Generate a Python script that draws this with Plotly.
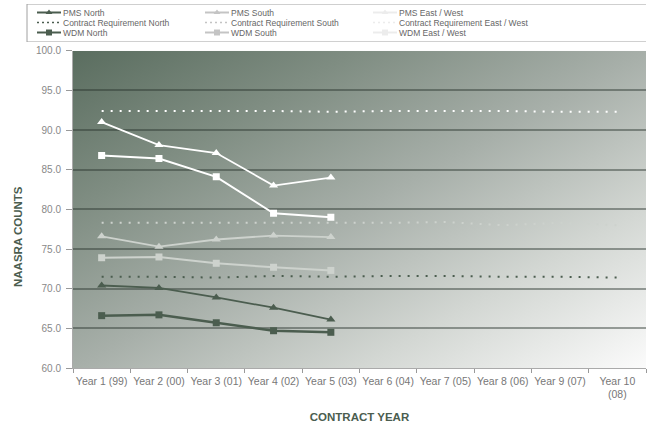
import base64
import plotly.graph_objects as go

years = ["Year 1 (99)", "Year 2 (00)", "Year 3 (01)", "Year 4 (02)", "Year 5 (03)",
         "Year 6 (04)", "Year 7 (05)", "Year 8 (06)", "Year 9 (07)", "Year 10<br>(08)"]

pms_north = [70.4, 70.1, 68.9, 67.6, 66.1]
wdm_north = [66.6, 66.7, 65.7, 64.7, 64.5]
pms_south = [76.6, 75.3, 76.2, 76.7, 76.5]
wdm_south = [73.9, 74.0, 73.2, 72.7, 72.3]
pms_ew = [91.0, 88.1, 87.1, 83.0, 84.0]
wdm_ew = [86.8, 86.4, 84.1, 79.5, 79.0]
cr_north = [71.5, 71.5, 71.4, 71.6, 71.5, 71.6, 71.6, 71.5, 71.5, 71.4]
cr_south = [78.3, 78.3, 78.3, 78.3, 78.3, 78.3, 78.4, 78.0, 78.3, 78.0]
cr_ew = [92.4, 92.4, 92.4, 92.4, 92.3, 92.4, 92.4, 92.4, 92.3, 92.3]

y_ticks = [60, 65, 70, 75, 80, 85, 90, 95, 100]

DARK = "#4b5d4f"
LIGHT = "#cdd2cd"
WHITE = "#ffffff"
TITLE_FONT = dict(size=11.5, color="#4b5d4f", family="Liberation Sans, Arial")

W, H = 647, 423
ML, MR, MT, MB = 0, 1, 4, 55
PW = W - ML - MR
PH = H - MT - MB
plot_left, plot_top = 73, 50.7
xdom = [(plot_left - ML) / PW, 1]
ydom = [0, (H - MB - plot_top) / PH]
leg_top, leg_bot = 4, 42
ydom2 = [(H - MB - leg_bot) / PH, 1]

fig = go.Figure()

def add_line(vals, name, color, symbol=None, dash=None, width=2, msize=7):
    mode = "lines+markers" if symbol else "lines"
    fig.add_trace(go.Scatter(
        x=years[:len(vals)], y=vals, name=name, mode=mode,
        line=dict(color=color, width=width, dash=dash),
        marker=dict(symbol=symbol, size=msize, color=color) if symbol else None,
        showlegend=False))

add_line(cr_north, "Contract Requirement North", DARK, dash="2px,7px", width=2)
add_line(cr_south, "Contract Requirement South", LIGHT, dash="2px,7px", width=2)
add_line(cr_ew, "Contract Requirement East / West", WHITE, dash="2px,7px", width=2)
add_line(pms_north, "PMS North", DARK, symbol="triangle-up", width=1.8, msize=8)
add_line(wdm_north, "WDM North", DARK, symbol="square", width=2.5, msize=7)
add_line(pms_south, "PMS South", LIGHT, symbol="triangle-up", width=1.8, msize=8)
add_line(wdm_south, "WDM South", LIGHT, symbol="square", width=2, msize=7)
add_line(pms_ew, "PMS East / West", WHITE, symbol="triangle-up", width=1.8, msize=8)
add_line(wdm_ew, "WDM East / West", WHITE, symbol="square", width=2, msize=7)

# custom legend on its own small axes
legend_cols = [
    [("PMS North", DARK, "triangle-up", None), ("Contract Requirement North", DARK, None, "2px,3px"), ("WDM North", DARK, "square", None)],
    [("PMS South", "#c4c4c4", "triangle-up", None), ("Contract Requirement South", "#c4c4c4", None, "2px,3px"), ("WDM South", "#c4c4c4", "square", None)],
    [("PMS East / West", "#ececec", "triangle-up", None), ("Contract Requirement East / West", "#ececec", None, "2px,3px"), ("WDM East / West", "#ececec", "square", None)],
]
col_x = [37, 205, 373]
row_y = [12.5, 22.5, 32.5]
annotations = []
for ci, col in enumerate(legend_cols):
    for ri, (label, color, sym, dash) in enumerate(col):
        x0 = col_x[ci]
        x1 = x0 + 24
        yy = row_y[ri]
        fig.add_trace(go.Scatter(
            x=[x0, x1], y=[yy, yy], xaxis="x2", yaxis="y2", mode="lines",
            line=dict(color=color, width=2 if not dash else 1.5, dash=dash),
            showlegend=False, hoverinfo="skip"))
        if sym:
            fig.add_trace(go.Scatter(
                x=[(x0 + x1) / 2], y=[yy], xaxis="x2", yaxis="y2", mode="markers",
                marker=dict(symbol=sym, size=6, color=color),
                showlegend=False, hoverinfo="skip"))
        annotations.append(dict(x=x1 + 1, y=yy, xref="x2", yref="y2", text=label,
                                showarrow=False, xanchor="left", yanchor="middle",
                                borderpad=0,
                                font=dict(size=8.5, color="#666666", family="Liberation Sans, Arial")))

# y-axis title (placed as in the reference, slightly below the plot centre)
annotations.append(dict(x=18, y=(H - MB - 237) / PH, xref="x2", yref="paper",
                        text="<b>NAASRA COUNTS</b>",
                        showarrow=False, textangle=-90, xanchor="center", yanchor="middle",
                        font=TITLE_FONT))

svg = ('<svg xmlns="http://www.w3.org/2000/svg" width="573" height="318" preserveAspectRatio="none">'
       '<defs><linearGradient id="g" x1="0" y1="0" x2="1" y2="1">'
       '<stop offset="0" stop-color="#5a6d5f"/>'
       '<stop offset="0.25" stop-color="#7f8d82"/>'
       '<stop offset="0.5" stop-color="#a7afa9"/>'
       '<stop offset="0.75" stop-color="#d3d7d3"/>'
       '<stop offset="1" stop-color="#fbfbfb"/>'
       '</linearGradient></defs><rect width="573" height="318" fill="url(#g)"/></svg>')
src = "data:image/svg+xml;base64," + base64.b64encode(svg.encode()).decode()

fig.update_layout(
    width=W, height=H,
    margin=dict(l=ML, r=MR, t=MT, b=MB, autoexpand=False),
    paper_bgcolor="white", plot_bgcolor="rgba(0,0,0,0)",
    font=dict(family="Liberation Sans, Arial", size=10, color="#777777"),
    images=[dict(source=src, xref="x", yref="y", x=-0.5, y=100, sizex=10, sizey=40,
                 sizing="stretch", layer="below")],
    xaxis=dict(domain=xdom, type="category", categoryorder="array", categoryarray=years,
               range=[-0.5, 9.5], tickson="boundaries", ticks="outside", ticklen=4,
               tickcolor="#999999", showline=True, linecolor="#aaaaaa", linewidth=1,
               showgrid=False, tickangle=0, automargin=False, ticklabelstandoff=3,
               tickfont=dict(size=10.5, color="#777777", family="Liberation Sans, Arial"),
               title=dict(text="<b>CONTRACT YEAR</b>", standoff=14, font=TITLE_FONT)),
    yaxis=dict(domain=ydom, range=[60, 100], tickvals=y_ticks, tickformat=".1f",
               ticks="outside", ticklen=6, tickcolor="#999999", automargin=False,
               ticklabelstandoff=3,
               showline=True, linecolor="#aaaaaa", linewidth=1,
               showgrid=True, gridcolor="rgba(40,52,44,0.45)", gridwidth=1.5,
               zeroline=False, tickfont=dict(size=10, color="#888888")),
    xaxis2=dict(domain=[0, 1], range=[0, PW], visible=False, fixedrange=True, automargin=False),
    yaxis2=dict(domain=ydom2, range=[leg_bot, leg_top], visible=False, fixedrange=True, anchor="x2", automargin=False),
    shapes=[dict(type="rect", xref="x2", yref="y2", x0=27, x1=PW + 5, y0=leg_top, y1=leg_bot,
                 line=dict(color="#a0a0a0", width=1), fillcolor="rgba(0,0,0,0)")],
    annotations=annotations,
)

fig.write_html("out.html", config={"displayModeBar": False},
               post_script="document.body.style.margin='0';")
